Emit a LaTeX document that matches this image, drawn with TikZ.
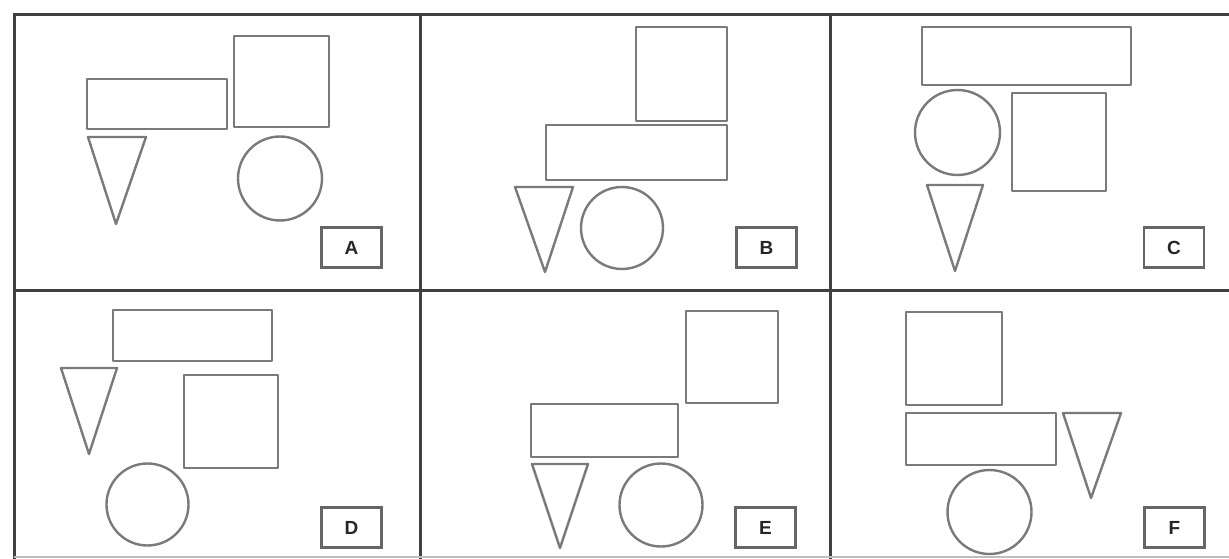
\documentclass[tikz,border=0pt]{standalone}
\usepackage{fontspec}
\setmainfont{Liberation Sans}
\begin{document}
\begin{tikzpicture}[x=1pt,y=-1pt,
  gridline/.style={draw=black!75,line width=3pt},
  shp/.style={draw=black!52,line width=2.4pt,line join=round},
  lbl/.style={draw=black!60,line width=2.4pt,minimum width=60pt,minimum height=40pt,inner sep=0pt,font=\fontsize{19}{19}\selectfont\bfseries,text=black!85}]
\useasboundingbox (0,0) rectangle (1229,559);
% grid
\draw[gridline] (1229,15) -- (14,15) -- (14,559);
\draw[gridline] (14,290) -- (1229,290);
\draw[gridline] (420,15) -- (420,559);
\draw[gridline] (830,15) -- (830,559);
\draw[draw=black!25,line width=1.2pt] (14,557) -- (1229,557);
% Panel A
\draw[shp] (87,79) rectangle (227,129);
\draw[shp] (234,36) rectangle (329,127);
\draw[shp] (88,137) -- (146,137) -- (116,224) -- cycle;
\draw[shp] (280,178.5) circle (42);
\node[lbl] (la) at (351.5,247.5) {A};
% Panel B
\draw[shp] (636,27) rectangle (727,121);
\draw[shp] (546,125) rectangle (727,180);
\draw[shp] (515,187) -- (573,187) -- (545,272) -- cycle;
\draw[shp] (622,228) circle (41);
\node[lbl] (lb) at (766.5,247.5) {B};
% Panel C
\draw[shp] (922,27) rectangle (1131,85);
\draw[shp] (957.5,132.5) circle (42.5);
\draw[shp] (1012,93) rectangle (1106,191);
\draw[shp] (927,185) -- (983,185) -- (955,271) -- cycle;
\node[lbl] (lc) at (1174,247.5) {C};
% Panel D
\draw[shp] (113,310) rectangle (272,361);
\draw[shp] (61,368) -- (117,368) -- (89,454) -- cycle;
\draw[shp] (184,375) rectangle (278,468);
\draw[shp] (147.5,504.5) circle (41);
\node[lbl] (ld) at (351.5,527.5) {D};
% Panel E
\draw[shp] (686,311) rectangle (778,403);
\draw[shp] (531,404) rectangle (678,457);
\draw[shp] (532,464) -- (588,464) -- (560,548) -- cycle;
\draw[shp] (661,505) circle (41.5);
\node[lbl] (le) at (765.5,527.5) {E};
% Panel F
\draw[shp] (906,312) rectangle (1002,405);
\draw[shp] (906,413) rectangle (1056,465);
\draw[shp] (1063,413) -- (1121,413) -- (1091,498) -- cycle;
\draw[shp] (989.5,512) circle (42);
\node[lbl] (lf) at (1174.5,527.5) {F};
\end{tikzpicture}
\end{document}
